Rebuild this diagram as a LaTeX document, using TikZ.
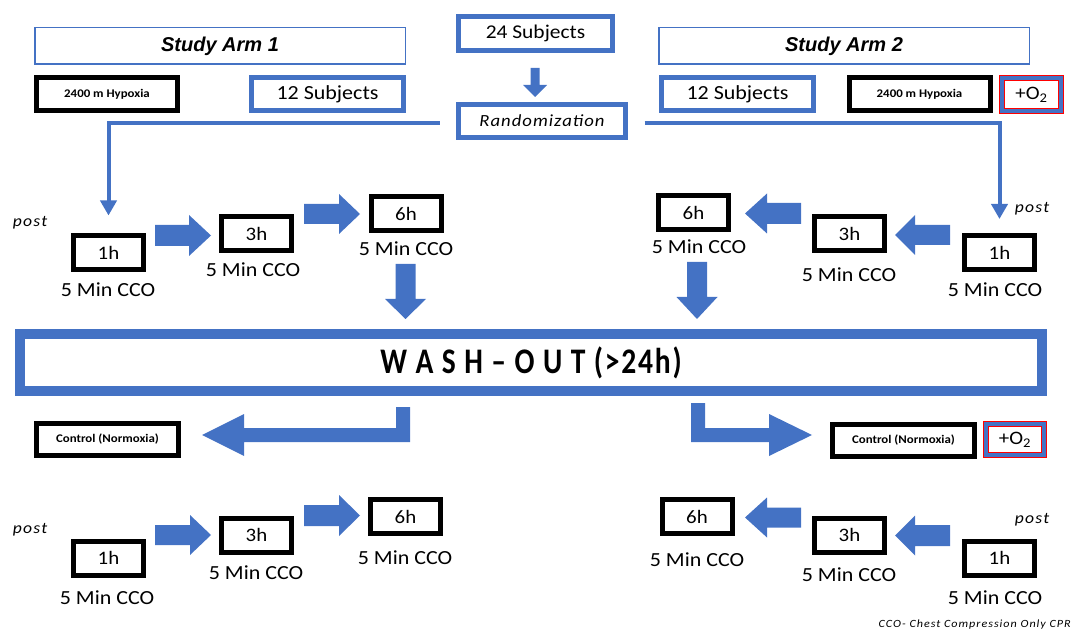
\documentclass[tikz,border=0pt]{standalone}
\usepackage{fontspec}
\setmainfont{Carlito}[FakeStretch=1.1]
\newfontfamily\arialfont{Liberation Sans}
\newfontfamily\washfont{Carlito}[FakeStretch=0.82, LetterSpace=5]
\usepackage{graphicx}
\usetikzlibrary{arrows.meta}
\definecolor{obl}{HTML}{4472C4}
\newcommand{\blockh}[6]{\fill[obl] (#1,{#4-#5}) -- (#2,{#4-#5}) -- (#2,{#4-#6}) -- (#3,#4) -- (#2,{#4+#6}) -- (#2,{#4+#5}) -- (#1,{#4+#5}) -- cycle;}
\newcommand{\blockv}[6]{\fill[obl] ({#1-#5},#2) -- ({#1+#5},#2) -- ({#1+#5},#3) -- ({#1+#6},#3) -- (#1,#4) -- ({#1-#6},#3) -- ({#1-#5},#3) -- cycle;}
\tikzset{
 bbox/.style={draw=black, line width=5pt, fill=white, inner sep=0pt, minimum width=70pt, minimum height=34pt, font=\fontsize{19}{19}\selectfont},
 blbox/.style={draw=obl, line width=5pt, fill=white, inner sep=0pt},
 armbox/.style={draw=obl, line width=1.5pt, inner sep=0pt, minimum width=370.5pt, minimum height=36.5pt, font=\arialfont\bfseries\itshape\fontsize{20}{20}\selectfont},
 cco/.style={inner sep=0pt, font=\fontsize{20}{20}\selectfont},
 posttxt/.style={inner sep=0pt, font=\itshape\fontsize{16}{16}\selectfont\addfontfeatures{LetterSpace=8}},
 smallbox/.style={bbox, minimum width=141pt, minimum height=33pt, font=\bfseries\fontsize{11.7}{11.7}\selectfont},
 o2box/.style={draw=red, double=obl, double distance=4pt, line width=1pt, fill=white, inner sep=0pt, minimum width=59pt, minimum height=33pt, font=\fontsize{19}{19}\selectfont},
 conn/.style={draw=obl, line width=4pt, -{Triangle[width=16pt,length=15pt]}}
}
\begin{document}
\begin{tikzpicture}[x=1pt,y=-1pt]
\useasboundingbox (0,0) rectangle (1072,631);
% top
\node[armbox] (arm1) at (220,46) {Study Arm 1};
\node[armbox] (arm2) at (844,46) {Study Arm 2};
\node[blbox, minimum width=154pt, minimum height=34pt, font=\fontsize{19.5}{19.5}\selectfont] (s24) at (535.5,33.5) {24 Subjects};
\node[blbox, minimum width=167pt, minimum height=33pt, font=\itshape\fontsize{17}{17}\selectfont\addfontfeatures{LetterSpace=6}] (rand) at (542,121) {Randomization};
\blockv{535}{68}{85}{97}{4.5}{12}
\node[smallbox] (hyp1) at (107,94) {2400 m Hypoxia};
\node[blbox, minimum width=152pt, minimum height=33pt, font=\fontsize{20}{20}\selectfont] (s12a) at (327.5,94) {12 Subjects};
\node[blbox, minimum width=152pt, minimum height=33pt, font=\fontsize{20}{20}\selectfont] (s12b) at (737.5,94) {12 Subjects};
\node[smallbox] (hyp2) at (919.5,94) {2400 m Hypoxia};
\node[o2box] (o2a) at (1031.5,94.5) {+O\textsubscript{2}};
% top-left row
\node[bbox] (t1) at (108.5,252.5) {1h};
\node[bbox] (t3) at (256.5,233.5) {3h};
\node[bbox] (t6) at (406,213.5) {6h};
\node[cco] (t1c) at (108,290) {5 Min CCO};
\node[cco] (t3c) at (253,270) {5 Min CCO};
\node[cco] (t6c) at (406,249) {5 Min CCO};
\node[posttxt] (tlp) at (30,223) {post};
% top-right row
\node[bbox] (u6) at (693.5,212.5) {6h};
\node[bbox] (u3) at (849.5,233.5) {3h};
\node[bbox] (u1) at (999.5,253) {1h};
\node[cco] (u6c) at (699,247) {5 Min CCO};
\node[cco] (u3c) at (849,275) {5 Min CCO};
\node[cco] (u1c) at (995,290) {5 Min CCO};
\node[posttxt] (trp) at (1032,209) {post};
% connectors from randomization
\draw[conn] ([xshift=-16.5pt,yshift=-2pt]rand.west) -| ([yshift=17.5pt]t1.north);
\draw[conn] ([xshift=16.5pt,yshift=-2pt]rand.east) -| ([yshift=14.5pt]u1.north);
% block arrows top
\blockh{155}{189}{211}{235.5}{10.5}{20.5}
\blockh{304}{339}{360}{214}{10}{20}
\blockh{950}{915}{895}{235}{10}{20}
\blockh{801}{767}{745}{213.5}{10.5}{20}
\blockv{405.5}{264}{299}{319}{10}{20.5}
\blockv{697}{262}{297}{319}{10}{20.5}
% wash-out
\node[draw=obl, line width=10pt, fill=white, minimum width=1022pt, minimum height=57pt, inner sep=0pt, font=\washfont\bfseries\fontsize{36}{36}\selectfont] (wash) at (531,362.5) {W A S H – O U T (>24h)};
% L arrows
\fill[obl] (410,407) -- (410,442) -- (244,442) -- (244,456) -- (202,435) -- (244,414) -- (244,428) -- (396,428) -- (396,407) -- cycle;
\fill[obl] (691,403) -- (705,403) -- (705,428) -- (769,428) -- (769,414) -- (812,435) -- (769,456) -- (769,442) -- (691,442) -- cycle;
\node[smallbox, minimum width=142pt, minimum height=32pt] (ctl1) at (107.5,439.5) {Control (Normoxia)};
\node[smallbox, minimum width=142pt, minimum height=32pt] (ctl2) at (903.5,440) {Control (Normoxia)};
\node[o2box, minimum width=58pt, minimum height=31pt] (o2b) at (1015,439.5) {+O\textsubscript{2}};
% bottom-left row
\node[bbox] (b1) at (108.5,558) {1h};
\node[bbox] (b3) at (256.5,535) {3h};
\node[bbox] (b6) at (405.5,516.5) {6h};
\node[cco] (b1c) at (107,598) {5 Min CCO};
\node[cco] (b3c) at (256,573) {5 Min CCO};
\node[cco] (b6c) at (405,558) {5 Min CCO};
\node[posttxt] (blp) at (30,530) {post};
\blockh{155}{190}{211}{535}{10}{20}
\blockh{304}{339}{360}{515.5}{10.5}{20.5}
% bottom-right row
\node[bbox] (c6) at (697,516.5) {6h};
\node[bbox] (c3) at (849.5,535) {3h};
\node[bbox] (c1) at (999.5,558) {1h};
\node[cco] (c6c) at (697,560) {5 Min CCO};
\node[cco] (c3c) at (849,575) {5 Min CCO};
\node[cco] (c1c) at (995,598) {5 Min CCO};
\node[posttxt] (brp) at (1032,520) {post};
\blockh{950}{915}{895}{535.5}{10.5}{20}
\blockh{801}{767}{745}{517.5}{10}{20}
% footnote
\node[anchor=east, inner sep=0pt, font=\itshape\fontsize{11}{11}\selectfont\addfontfeatures{LetterSpace=9}] (note) at (1071,625) {CCO- Chest Compression Only CPR};
\end{tikzpicture}
\end{document}
